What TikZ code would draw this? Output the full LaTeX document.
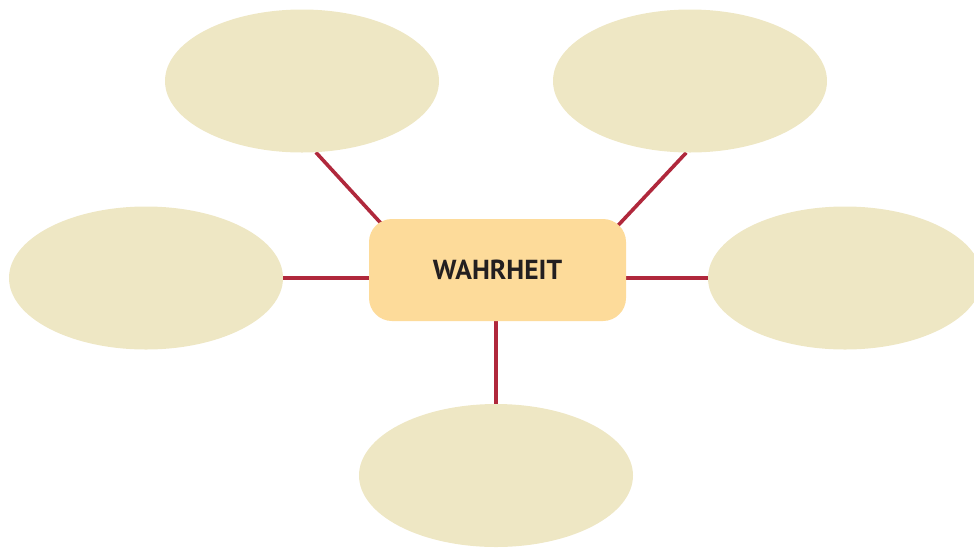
\documentclass[tikz,border=0pt]{standalone}
\usepackage{fontspec}
\setmainfont{PT Sans}
\usetikzlibrary{shapes.geometric,backgrounds}
\definecolor{ellfill}{HTML}{EEE7C4}
\definecolor{boxfill}{HTML}{FDDB9A}
\definecolor{linkred}{HTML}{B0283C}
\definecolor{txt}{HTML}{231F20}
\tikzset{
  bubble/.style={ellipse, fill=ellfill, draw=none, minimum width=274pt, minimum height=143pt, inner sep=0pt},
  centerbox/.style={rectangle, rounded corners=23pt, fill=boxfill, draw=none, minimum width=257pt, minimum height=102pt, inner sep=0pt, font=\fontsize{27.5}{32}\selectfont\bfseries, text=txt},
  link/.style={draw=linkred, line width=3.6pt}
}
\begin{document}
\begin{tikzpicture}[x=1pt,y=-1pt]
\useasboundingbox (0,0) rectangle (974,547);
\node[centerbox] (box) at (497.5,270) {WAHRHEIT};
\node[bubble] (tl) at (302,81) {};
\node[bubble] (tr) at (690,81) {};
\node[bubble] (l) at (146,278) {};
\node[bubble] (r) at (845,278) {};
\node[bubble] (b) at (496,475.5) {};
\begin{pgfonlayer}{background}
\draw[link, shorten >=-15pt] (tl.-79) -- (box.157);
\draw[link, shorten >=-15pt] (tr.-93) -- (box.22);
\draw[link] (l.east) -- (r.west);
\draw[link] (b.north) -- (b.north |- box.south);
\end{pgfonlayer}
\end{tikzpicture}
\end{document}
